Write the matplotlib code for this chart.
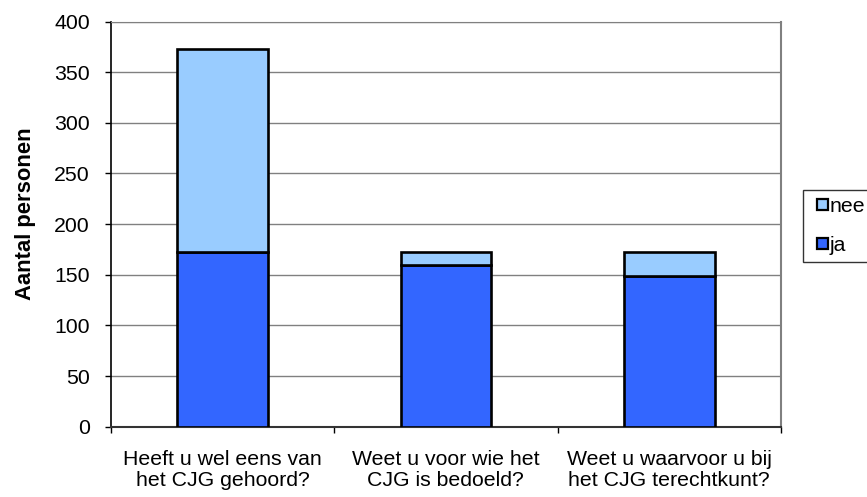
import matplotlib.pyplot as plt
import matplotlib.patches as mpatches
from matplotlib.legend_handler import HandlerPatch
import numpy as np

plt.rcParams["font.family"] = ["Liberation Sans", "DejaVu Sans"]

categories = [
    "Heeft u wel eens van\nhet CJG gehoord?",
    "Weet u voor wie het\nCJG is bedoeld?",
    "Weet u waarvoor u bij\nhet CJG terechtkunt?",
]
ja = [172, 160, 149]
nee = [201, 12, 23]
y_ticks = [0, 50, 100, 150, 200, 250, 300, 350, 400]

FS = 15.3


def small_square(legend, orig_handle, xdescent, ydescent, width, height, fontsize):
    side = 8
    return mpatches.Rectangle((-xdescent + width - side, -ydescent + (height - side) / 2), side, side)


fig = plt.figure(figsize=(8.67, 4.97), dpi=100)
ax = fig.add_axes([0.1277, 0.1414, 0.7731, 0.8153])

x = np.arange(len(categories))
bars_ja = ax.bar(x, ja, width=0.405, color="#3366ff", edgecolor="black", linewidth=1.9, label="ja", zorder=3)
bars_nee = ax.bar(x, nee, width=0.405, bottom=ja, color="#99ccff", edgecolor="black", linewidth=1.9,
                  label="nee", zorder=3)

ax.set_xlim(-0.5, len(categories) - 0.5)
ax.set_ylim(0, 400)
ax.set_yticks(y_ticks)
ax.yaxis.grid(True, color="#808080", linewidth=1.0, zorder=0)
ax.set_axisbelow(True)

ax.set_xticks(x, categories, fontsize=FS, linespacing=1.1)
ax.tick_params(axis="x", length=0, pad=17)
ax.set_xticks(np.arange(-0.5, len(categories)), minor=True)
ax.tick_params(axis="x", which="minor", length=4.5, width=1, color="black", direction="out")
ax.tick_params(axis="y", length=4.5, width=1, labelsize=FS, pad=10.5)

ax.spines["left"].set_color("black")
ax.spines["left"].set_linewidth(1.2)
ax.spines["bottom"].set_color("#333333")
ax.spines["bottom"].set_linewidth(1.5)
ax.spines["top"].set_color("#808080")
ax.spines["right"].set_color("#808080")
ax.spines["right"].set_linewidth(1.5)

ax.set_ylabel("Aantal personen", fontsize=15.8, fontweight="bold")
ax.yaxis.set_label_coords(-0.111, 0.525)

leg = fig.legend(
    [bars_nee[0], bars_ja[0]],
    ["nee", "ja"],
    loc="upper left",
    bbox_to_anchor=(803 / 867, 1 - 190 / 497),
    frameon=True,
    fancybox=False,
    fontsize=FS,
    handlelength=0.85,
    handleheight=0.5,
    handletextpad=0.05,
    labelspacing=0.95,
    borderpad=0.33,
    borderaxespad=0,
    handler_map={mpatches.Rectangle: HandlerPatch(patch_func=small_square)},
)
leg.get_frame().set_edgecolor("black")
leg.get_frame().set_linewidth(1.0)
for h in leg.legend_handles:
    h.set_edgecolor("black")
    h.set_linewidth(1.6)

fig.savefig("out.png", dpi=100)
